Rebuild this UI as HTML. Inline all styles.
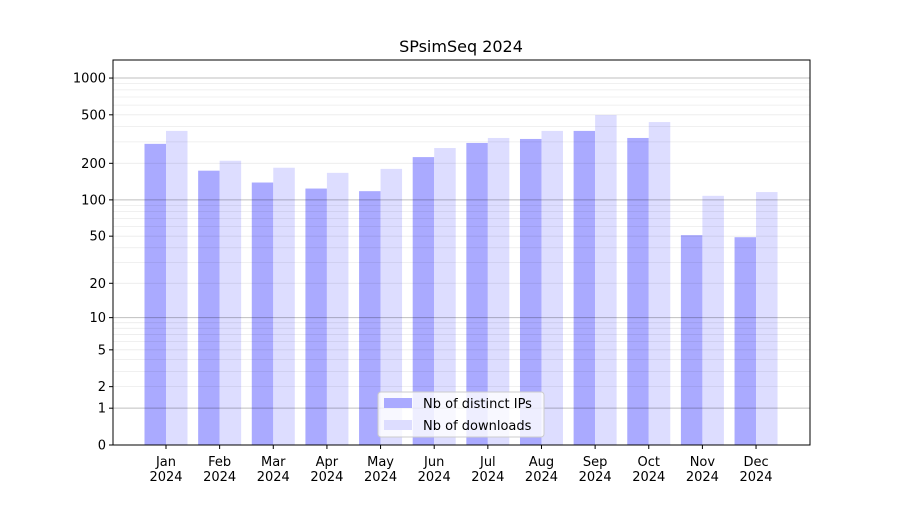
<!DOCTYPE html>
<html><head><meta charset="utf-8"><style>
body{margin:0;background:#fff;}
svg text{font-family:"DejaVu Sans","Liberation Sans",sans-serif;}
</style></head><body>
<svg id="chart" width="900" height="500" xmlns="http://www.w3.org/2000/svg">
<rect width="900" height="500" fill="#fff"/>
<text x="461" y="52" font-size="16" text-anchor="middle">SPsimSeq 2024</text>
<g id="bars"></g><g id="grid"></g><g id="axes"></g>
<g>
<rect x="378" y="392" width="166" height="45" fill="#fff" fill-opacity="0.8" stroke="#ccc" rx="3"/>
<rect x="384" y="398" width="28" height="10" fill="#aaaaff"/>
<text x="423" y="408" font-size="13">Nb of distinct IPs</text>
<rect x="384" y="420" width="28" height="10" fill="#ddddff"/>
<text x="423" y="430" font-size="13">Nb of downloads</text>
</g>
</svg>
<script>
const months=["Jan","Feb","Mar","Apr","May","Jun","Jul","Aug","Sep","Oct","Nov","Dec"];
const ips=[289,174,139,124,118,225,294,317,369,323,51,49];
const downloads=[369,210,184,167,180,267,323,369,498,436,108,116];
const yTicks=[0,1,2,5,10,20,50,100,200,500,1000];
const NS="http://www.w3.org/2000/svg";
const L=113,R=810,T=60,B=445,PPU=122.3;
function y(v){return B-Math.log10(v+1)*PPU;}
function xc(i){return 166+i*53.64;}
function mk(tag,attrs,parent){const e=document.createElementNS(NS,tag);for(const k in attrs)e.setAttribute(k,attrs[k]);parent.appendChild(e);return e;}
const grid=document.getElementById('grid'),bars=document.getElementById('bars'),axes=document.getElementById('axes');
for(let d=1;d<=1000;d*=10){for(let m=1;m<10;m++){const v=m*d;if(v>1400)break;
const g=mk('line',{x1:L,x2:R,y1:y(v),y2:y(v),stroke:'#000','stroke-opacity':m===1?0.25:0.08,'stroke-width':m===1?1:0.8},grid);

}}
months.forEach((m,i)=>{
const b1=mk('rect',{x:xc(i)-21.5,y:y(ips[i]),width:21.5,height:B-y(ips[i]),fill:'#aaaaff'},bars);


const b2=mk('rect',{x:xc(i),y:y(downloads[i]),width:21.5,height:B-y(downloads[i]),fill:'#ddddff'},bars);


mk('line',{x1:xc(i),x2:xc(i),y1:B,y2:B+4,stroke:'#000'},axes);
const t=mk('text',{x:xc(i),y:B+21,'font-size':13,'text-anchor':'middle'},axes);


t.textContent=m;
const t2=mk('text',{x:xc(i),y:B+36,'font-size':13,'text-anchor':'middle'},axes);


t2.textContent='2024';
});
yTicks.forEach(v=>{
mk('line',{x1:L-4,x2:L,y1:y(v),y2:y(v),stroke:'#000'},axes);
const t=mk('text',{x:L-7,y:y(v)+4.5,'font-size':13,'text-anchor':'end'},axes);


t.textContent=v;
});
const fr=mk('rect',{x:L,y:T,width:R-L,height:B-T,fill:'none',stroke:'#000','stroke-width':1},axes);


</script>
</body></html>
